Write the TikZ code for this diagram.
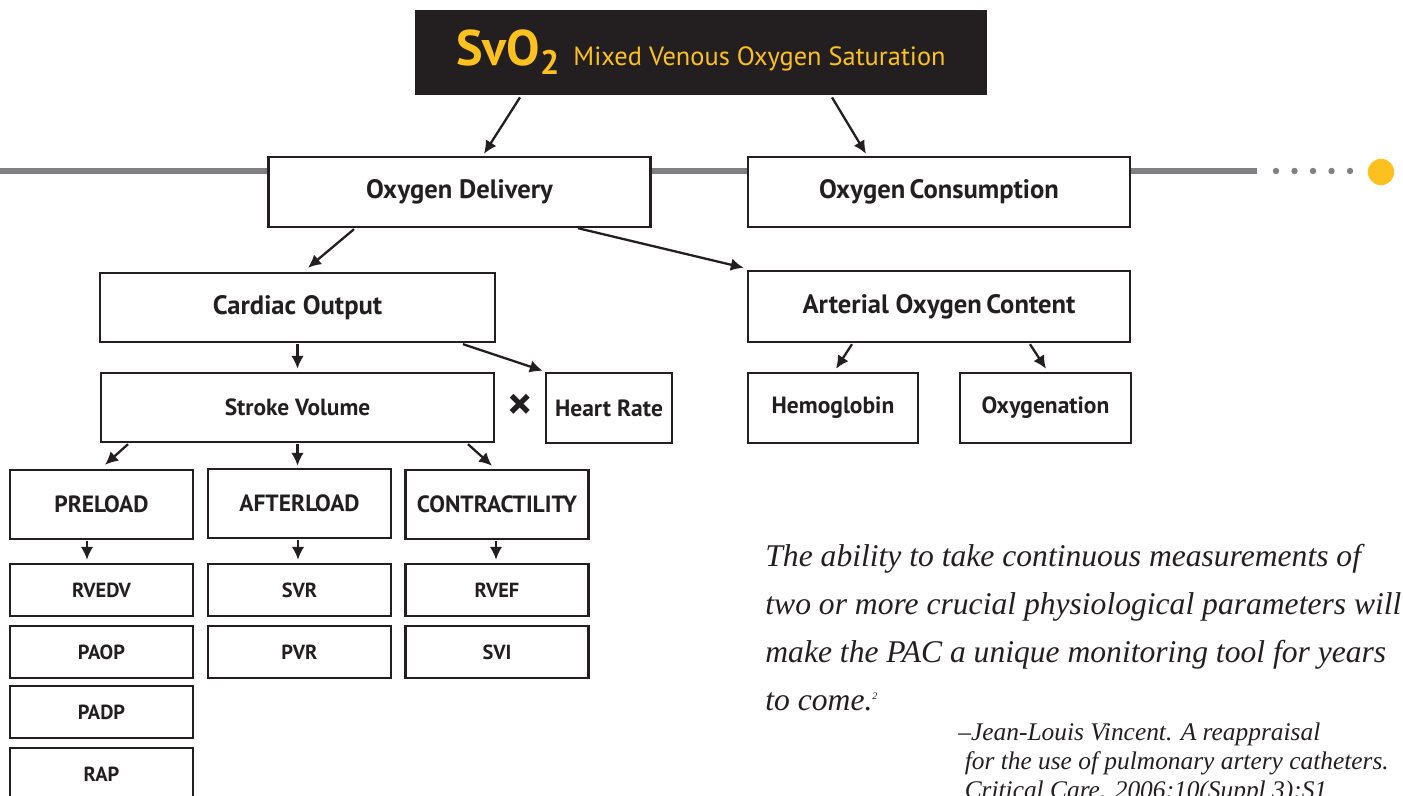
\documentclass[tikz,border=0pt]{standalone}
\usepackage{fontspec}
\setmainfont{Liberation Serif}
\setsansfont{PT Sans}
\usetikzlibrary{arrows.meta,calc}

\definecolor{svoblack}{HTML}{231F20}
\definecolor{svoyellow}{HTML}{FDC11F}
\definecolor{svogray}{HTML}{808083}

\begin{document}
\begin{tikzpicture}[x=0.5pt, y=-0.5pt, font=\sffamily\bfseries,
	box/.style={draw=svoblack, fill=white, line width=1.2pt, inner sep=0pt, text=svoblack, align=center},
	bigbox/.style={box, minimum width=191pt, minimum height=35pt, font=\sffamily\bfseries\fontsize{13.3}{15}\selectfont},
	midbox/.style={box, minimum width=91.5pt, minimum height=34.5pt, font=\sffamily\bfseries\fontsize{11.75}{13}\selectfont},
	smallbox/.style={box, minimum width=91.5pt, minimum height=26pt, font=\sffamily\bfseries\fontsize{10.2}{12}\selectfont},
	arr/.style={draw=svoblack, line width=1.15pt, -{Latex[length=6.5pt,width=6.3pt]}}]
	\clip (0,0) rectangle (1403,796);
	% timeline behind the boxes
	\draw[svogray, line width=2.6pt] (0,171) -- (1257,171);
	\foreach \x in {1276,1294.5,1313,1331.5,1350}
		\fill[svogray] (\x,171) circle[radius=1.6pt];
	\fill[svoyellow] (1381,172) circle[radius=6.6pt];

	\node (title) [fill=svoblack, minimum width=286pt, minimum height=42.5pt, inner sep=0pt, text=svoyellow] at (701,52.5)
		{{\fontsize{25}{25}\selectfont SvO\raisebox{-4.5pt}{\fontsize{17}{17}\selectfont 2}}\hspace{7pt}{\mdseries\fontsize{13.2}{14}\selectfont Mixed Venous Oxygen Saturation}};

	\node (deliv) [bigbox] at (459.5,192) {Oxygen Delivery};
	\node (consum) [bigbox] at (939,192) {Oxygen\,Consumption};
	\node (cardiac) [bigbox, minimum width=197.5pt, minimum height=34.5pt] at (297.5,307.5) {Cardiac Output};
	\node (arterial) [bigbox, minimum height=35.5pt] at (939,306.5) {Arterial Oxygen\,Content};
	\node (stroke) [bigbox, minimum width=196.5pt, minimum height=34.5pt, font=\sffamily\bfseries\fontsize{11.7}{13}\selectfont] at (297.5,407.5) {Stroke Volume};
	\node (times) [font=\sffamily\bfseries\fontsize{24}{24}\selectfont, text=svoblack, inner sep=0pt] at (520,407) {×};
	\node (heart) [midbox, minimum width=63pt, minimum height=35pt] at (609,408) {Heart Rate};
	\node (hemo) [midbox, minimum width=85pt, minimum height=35pt] at (833,408) {Hemoglobin};
	\node (oxygen) [midbox, minimum width=85.5pt, minimum height=35pt] at (1045.5,408) {Oxygenation};

	\node (preload) [midbox] at (101.5,504.5) {PRELOAD};
	\node (afterload) [midbox] at (299.5,503.5) {AFTERLOAD};
	\node (contract) [midbox] at (497,504.5) {CONTRACTILITY};

	\node (rvedv) [smallbox] at (101.5,590) {RVEDV};
	\node (paop) [smallbox] at (101.5,652) {PAOP};
	\node (padp) [smallbox] at (101.5,712) {PADP};
	\node (rap) [smallbox] at (101.5,774) {RAP};
	\node (svr) [smallbox] at (299.5,590) {SVR};
	\node (pvr) [smallbox] at (299.5,652) {PVR};
	\node (rvef) [smallbox] at (497,590) {RVEF};
	\node (svi) [smallbox] at (497,652) {SVI};

	\draw[arr] ($(title.south)+(-181,2)$) -- ($(deliv.north)+(24.5,-2)$);
	\draw[arr] ($(title.south)+(131,2)$) -- ($(consum.north)+(-73,-2)$);
	\draw[arr] ($(deliv.south)+(-105.5,1)$) -- ($(cardiac.north)+(10.5,-4)$);
	\draw[arr] ($(deliv.south)+(118.5,0)$) -- ($(arterial.north west)+(-3,-2)$);
	\draw[arr] ($(cardiac.south)+(0,1)$) -- ($(stroke.north)+(0,-3)$);
	\draw[arr] ($(cardiac.south)+(165.5,1)$) -- ($(heart.north west)+(-2,-1)$);
	\draw[arr] ($(stroke.south)+(-169.5,1)$) -- ($(preload.north)+(3.5,-4)$);
	\draw[arr] ($(stroke.south)+(0,1)$) -- ($(afterload.north)+(-2,-2)$);
	\draw[arr] ($(stroke.south)+(170.5,1)$) -- ($(contract.north)+(-5,-3)$);
	\draw[arr] ($(arterial.south)+(-87,1)$) -- ($(hemo.north)+(3,-3)$);
	\draw[arr] ($(arterial.south)+(91,1)$) -- ($(oxygen.north)+(0.5,-3)$);
	\draw[arr] ($(preload.south)+(-14.5,1)$) -- ($(rvedv.north)+(-14.5,-3)$);
	\draw[arr] ($(afterload.south)+(-1.5,1)$) -- ($(svr.north)+(-1.5,-3)$);
	\draw[arr] ($(contract.south)+(-1,1)$) -- ($(rvef.north)+(-1,-3)$);

	\node (quote) [anchor=base west, align=left, font=\rmfamily\itshape\fontsize{15.8}{24}\selectfont, inner sep=0pt, text=svoblack] at (765,710)
		{The ability to take continuous measurements of\\ two or more crucial physiological parameters will\\ make the PAC a unique monitoring tool for years\\ to come.\textsuperscript{\fontsize{5}{5}\selectfont 2}};
	\node (cite) [anchor=base west, align=left, font=\rmfamily\itshape\fontsize{12.7}{14.5}\selectfont, inner sep=0pt, text=svoblack] at (958,798)
		{--Jean-Louis Vincent. A reappraisal\\ \ for the use of pulmonary artery catheters.\\ \ Critical Care. 2006;10(Suppl 3):S1};
\end{tikzpicture}
\end{document}
